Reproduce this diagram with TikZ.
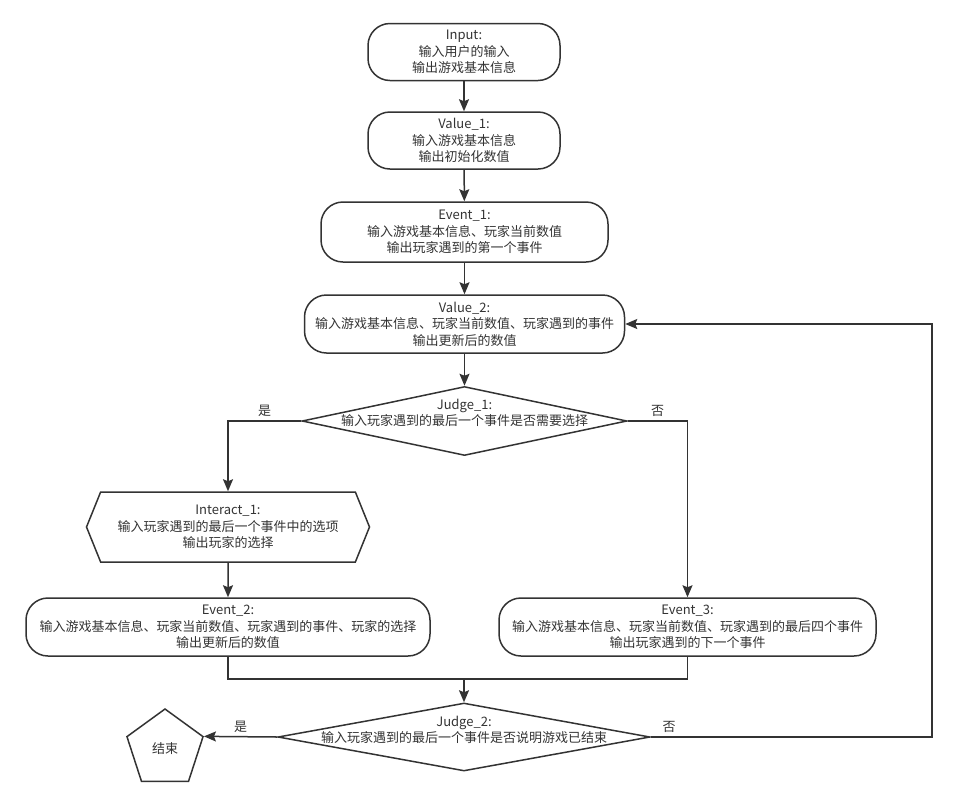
\documentclass[tikz,border=0pt]{standalone}
\usepackage{fontspec}
\setmainfont{Noto Sans CJK SC}
\definecolor{flowline}{HTML}{333333}
\definecolor{flowtext}{HTML}{333333}
\usetikzlibrary{arrows.meta,shapes.geometric,shapes.symbols}

\begin{document}
\begin{tikzpicture}[x=1pt, y=-1pt,
      every node/.style={font=\fontsize{13}{16.5}\selectfont, text=flowtext},
      proc/.style={draw=flowline, line width=1.5pt, rounded corners=22pt,
                   minimum height=57pt, align=center, inner sep=2pt},
      judge/.style={draw=flowline, line width=1.5pt, diamond, inner sep=0pt},
      jtxt/.style={align=center, inner sep=0pt},
      inter/.style={draw=flowline, line width=1.5pt, signal, signal to=west and east,
                    signal pointer angle=136, minimum width=283pt, minimum height=70pt,
                    align=center},
      stop/.style={draw=flowline, line width=1.5pt, regular polygon, regular polygon sides=5,
                   minimum size=80pt, inner sep=0pt},
      arr/.style={-{Stealth[length=12pt, width=10pt, inset=2pt]}, line width=1.5pt, color=flowline},
      lin/.style={line width=1.5pt, color=flowline}
  ]
    \useasboundingbox (0,0) rectangle (956,804);

    \node[proc, minimum width=192pt] (in) at (464,52) {Input:\\ 输入用户的输入\\ 输出游戏基本信息};
    \node[proc, minimum width=192pt] (v1) at (464,140.5) {Value\_1:\\ 输入游戏基本信息\\ 输出初始化数值};
    \node[proc, minimum width=287pt, minimum height=60pt] (e1) at (464.5,232) {Event\_1:\\ 输入游戏基本信息、玩家当前数值\\ 输出玩家遇到的第一个事件};
    \node[proc, minimum width=320pt, minimum height=58pt] (v2) at (464.5,324) {Value\_2:\\ 输入游戏基本信息、玩家当前数值、玩家遇到的事件\\ 输出更新后的数值};
    \node[judge, minimum width=325pt, minimum height=69pt,
          label={[jtxt, yshift=8pt]center:Judge\_1:\\ 输入玩家遇到的最后一个事件是否需要选择}] (j1) at (464.5,421) {};
    \node[inter] (ia) at (228,527) {Interact\_1:\\ 输入玩家遇到的最后一个事件中的选项\\ 输出玩家的选择};
    \node[proc, minimum width=404pt, minimum height=58pt] (e2) at (228,627) {Event\_2:\\ 输入游戏基本信息、玩家当前数值、玩家遇到的事件、玩家的选择\\ 输出更新后的数值};
    \node[proc, minimum width=377pt, minimum height=58pt] (e3) at (687.5,627) {Event\_3:\\ 输入游戏基本信息、玩家当前数值、玩家遇到的最后四个事件\\ 输出玩家遇到的下一个事件};
    \node[judge, minimum width=372pt, minimum height=68pt,
          label={[jtxt, yshift=7pt]center:Judge\_2:\\ 输入玩家遇到的最后一个事件是否说明游戏已结束}] (j2) at (464,737) {};
    \node[stop] (end) at (165,749) {结束};

    \coordinate (m) at (464,679);
    \coordinate (loop) at (932,737);

    \draw[arr] (in) -- (v1);
    \draw[arr] (v1) -- (e1);
    \draw[arr] (e1) -- (v2);
    \draw[arr] (v2) -- (j1);
    \draw[arr] (j1.west) -| node[above, pos=0.25] {是} (ia.north);
    \draw[arr] (j1.east) -| node[above, pos=0.25] {否} (e3.north);
    \draw[arr] (ia) -- (e2);
    \draw[lin] (e2.south) |- (m) -| (e3.south);
    \draw[arr] (m) -- (j2.north);
    \draw[arr] (j2.west) -- node[above] {是} (end.corner 5);
    \draw[arr] (j2.east) -- node[above, pos=0.065] {否} (loop) |- (v2.east);
  \end{tikzpicture}
\end{document}
